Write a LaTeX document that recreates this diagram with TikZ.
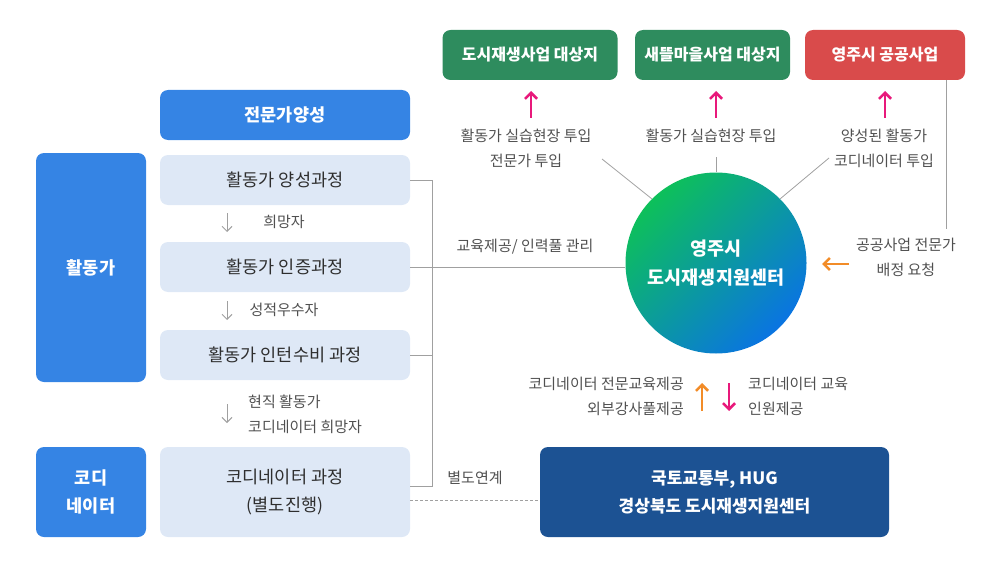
\documentclass[tikz,border=0pt]{standalone}
\usepackage{fontspec}
\newfontfamily\kr{Noto Sans CJK KR}
\usetikzlibrary{arrows.meta}
\definecolor{cblue}{HTML}{3584E4}
\definecolor{clight}{HTML}{DEE8F6}
\definecolor{cgreen}{HTML}{2E8C5E}
\definecolor{cred}{HTML}{D94B4B}
\definecolor{cnavy}{HTML}{1C5293}
\definecolor{cpink}{HTML}{E8197B}
\definecolor{corange}{HTML}{F28C28}
\definecolor{ctext}{HTML}{505050}
\definecolor{cdark}{HTML}{2E2E2E}
\definecolor{cline}{HTML}{A0A0A0}
\definecolor{cgA}{HTML}{0DC05A}
\definecolor{cgB}{HTML}{0A74E2}
\begin{document}
\begin{tikzpicture}[x=1pt,y=-1pt,
  box/.style={rounded corners=8pt, inner sep=0pt, align=center},
  bluebox/.style={box, fill=cblue, text=white, font=\kr\bfseries\fontsize{17.5}{28}\selectfont},
  lightbox/.style={box, fill=clight, text=cdark, font=\kr\fontsize{17.5}{28}\selectfont},
  greenbox/.style={box, fill=cgreen, text=white, font=\kr\bfseries\fontsize{16}{20}\selectfont, minimum height=50pt},
  redbox/.style={box, fill=cred, text=white, font=\kr\bfseries\fontsize{16}{20}\selectfont, minimum height=50pt},
  navybox/.style={box, fill=cnavy, text=white, font=\kr\bfseries\fontsize{17}{28}\selectfont},
  lbl/.style={inner sep=0pt, text=ctext, font=\kr\fontsize{15}{25}\selectfont},
  conn/.style={draw=cline, line width=0.8pt},
  grayarrow/.style={draw=cline, line width=1pt, -{Straight Barb[length=5pt,width=10pt]}},
  pinkarrow/.style={draw=cpink, line width=2.6pt, -{Straight Barb[length=6pt,width=12pt]}},
  orangearrow/.style={draw=corange, line width=2.6pt, -{Straight Barb[length=6pt,width=12pt]}},
  pinkdown/.style={draw=cpink, line width=2.6pt, -{Straight Barb[length=6pt,width=12pt]}}
]
\useasboundingbox (0,0) rectangle (1000,567);

% left column
\node[bluebox, minimum width=250pt, minimum height=50pt] (pro) at (285,115) {전문가양성};
\node[lightbox, minimum width=250pt, minimum height=50pt] (c1) at (285,180) {활동가 양성과정};
\node[lightbox, minimum width=250pt, minimum height=50pt] (c2) at (285,267) {활동가 인증과정};
\node[lightbox, minimum width=250pt, minimum height=50pt] (c3) at (285,355) {활동가 인턴수비 과정};
\node[lightbox, minimum width=250pt, minimum height=90pt] (c4) at (285,492) {코디네이터 과정\\(별도진행)};
\node[bluebox, minimum width=110pt, minimum height=229pt] (act) at (91,267.5) {활동가};
\node[bluebox, minimum width=110pt, minimum height=90pt] (cod) at (91,492) {코디\\네이터};

% gray down arrows and labels
\coordinate (g1a) at (227,213); \coordinate (g1b) at (227,232);
\coordinate (g2a) at (227,301); \coordinate (g2b) at (227,320);
\coordinate (g3a) at (227,404); \coordinate (g3b) at (227,423);
\draw[grayarrow] (g1a) -- (g1b);
\draw[grayarrow] (g2a) -- (g2b);
\draw[grayarrow] (g3a) -- (g3b);
\node[lbl] (l1) at (284,222) {희망자};
\node[lbl] (l2) at (284,310) {성적우수자};
\node[lbl, anchor=west, align=left] (l3) at (248,414) {현직 활동가\\코디네이터 희망자};

% top boxes
\node[greenbox, minimum width=175pt] (t1) at (530,55) {도시재생사업 대상지};
\node[greenbox, minimum width=155pt] (t2) at (712.5,55) {새뜰마을사업 대상지};
\node[redbox, minimum width=160pt] (t3) at (885,55) {영주시 공공사업};

% center circle
\node[circle, minimum size=181pt, inner sep=0pt, top color=cgA, bottom color=cgB, shading angle=45,
      text=white, align=center, font=\kr\bfseries\fontsize{18.5}{29}\selectfont] (ctr) at (716,263) {영주시\\도시재생지원센터};

% national box
\node[navybox, minimum width=349pt, minimum height=90pt] (nat) at (714.5,492) {국토교통부, HUG\\경상북도 도시재생지원센터};

% bracket
\coordinate (b1) at (432,180);
\coordinate (b2) at (432,267);
\coordinate (b3) at (432,355);
\coordinate (b4) at (432,486);
\draw[conn] (c1.east) -- (b1) -- (b4) -- (c4.east |- b4);
\draw[conn] (c3.east) -- (b3);
\draw[conn] (c2.east) -- (c2.east -| ctr.west);
\node[lbl] (edu) at (525,247) {교육제공/ 인력풀 관리};
\draw[conn, dashed, dash pattern=on 3pt off 2pt] (c4.east |- 0,500) -- (nat.west |- 0,500);
\node[lbl] (sep) at (475,478) {별도연계};

% top connectors
\coordinate (d1) at (602,159);
\coordinate (d2) at (716,157);
\coordinate (d3) at (829,158);
\draw[conn] (d1) -- (ctr.135);
\draw[conn] (d2) -- (ctr.north);
\draw[conn] (d3) -- (ctr.45);
\coordinate (p1a) at (531,118); \coordinate (p1b) at (531,91);
\coordinate (p2a) at (716,118); \coordinate (p2b) at (716,91);
\coordinate (p3a) at (885,118); \coordinate (p3b) at (885,91);
\draw[pinkarrow] (p1a) -- (p1b);
\draw[pinkarrow] (p2a) -- (p2b);
\draw[pinkarrow] (p3a) -- (p3b);
\node[lbl, align=center] (u1) at (526,148.5) {활동가 실습현장 투입\\전문가 투입};
\node[lbl] (u2) at (711,136) {활동가 실습현장 투입};
\node[lbl, align=center] (u3) at (884,148.5) {양성된 활동가\\코디네이터 투입};

% right side
\coordinate (r1) at (946,229);
\draw[conn] (t3.south east -| 946,0) -- (r1);
\node[lbl, align=center] (req) at (906,257) {공공사업 전문가\\배정 요청};
\coordinate (o1a) at (849,264); \coordinate (o1b) at (822,264);
\draw[orangearrow] (o1a) -- (o1b);

% bottom
\coordinate (o2a) at (702,411); \coordinate (o2b) at (702,383);
\coordinate (o3a) at (729,383); \coordinate (o3b) at (729,411);
\draw[orangearrow] (o2a) -- (o2b);
\draw[pinkdown] (o3a) -- (o3b);
\node[lbl, anchor=east, align=right] (bl) at (684,396) {코디네이터 전문교육제공\\외부강사풀제공};
\node[lbl, anchor=west, align=left] (br) at (748,396) {코디네이터 교육\\인원제공};
\end{tikzpicture}
\end{document}
